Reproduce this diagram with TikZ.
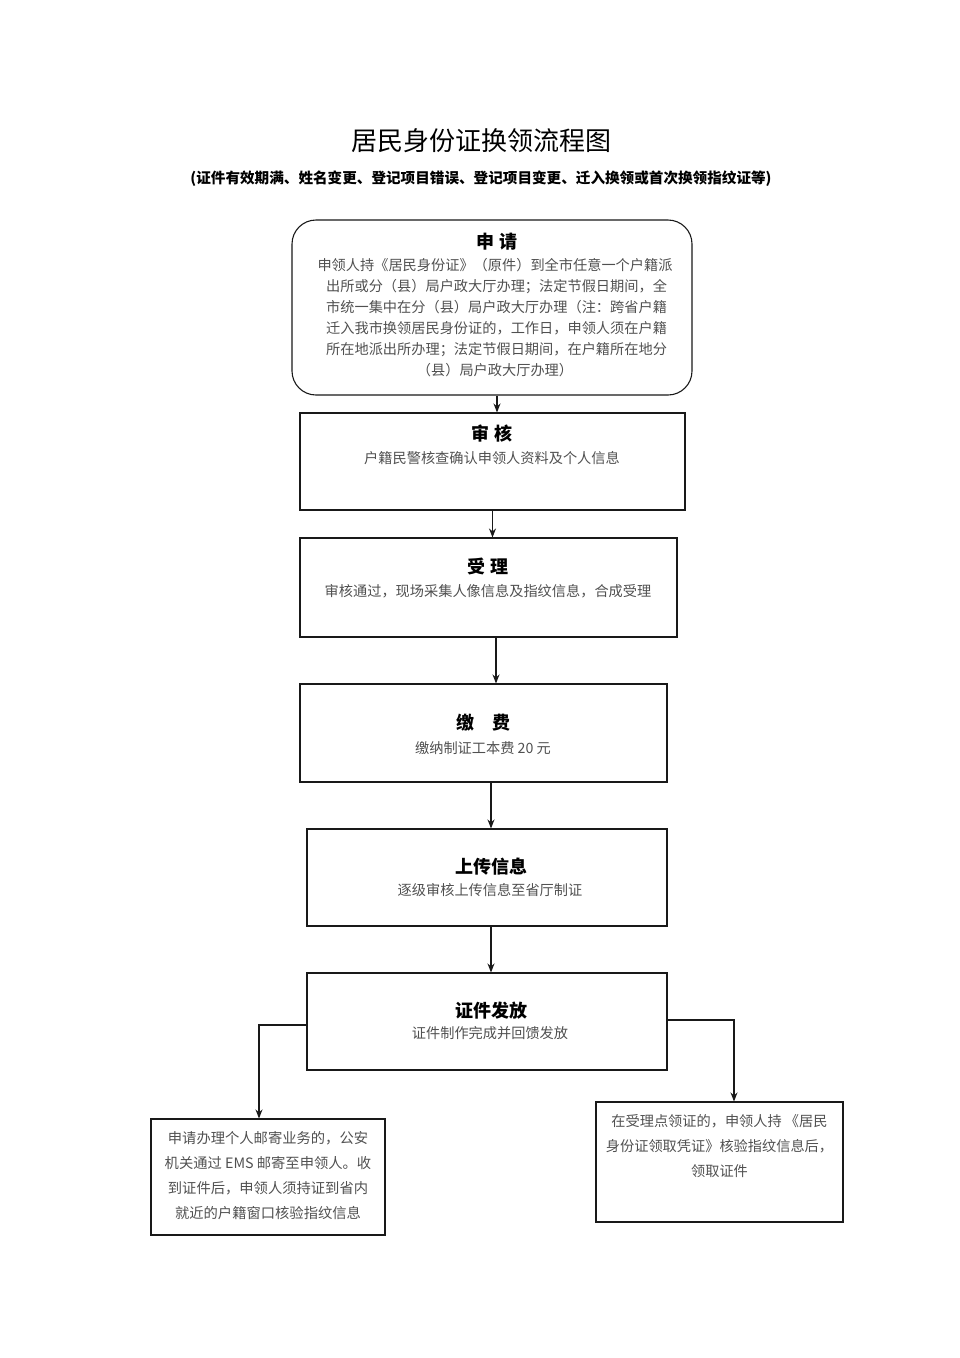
\documentclass[tikz,border=0pt]{standalone}
\usepackage{fontspec}
\setmainfont{Noto Sans CJK SC}
\usetikzlibrary{arrows.meta,positioning}
\definecolor{bodygray}{HTML}{505050}
\tikzset{
  box/.style={draw=black!90,line width=1.1pt,rectangle,inner sep=0pt},
  roundbox/.style={box,rounded corners=24pt},
  ttl/.style={font=\fontsize{18}{20}\selectfont\bfseries,text=black,inner sep=0pt},
  txt/.style={font=\fontsize{14.2}{21}\selectfont,text=bodygray,align=center,inner sep=0pt},
  arr/.style={draw=black!90,line width=1.1pt,-{Stealth[length=9pt,width=7pt]}}
}
\begin{document}
\begin{tikzpicture}[x=1pt,y=-1pt]
\useasboundingbox (0,0) rectangle (960,1358);

% heading
\node[font=\fontsize{26}{28}\selectfont,inner sep=0pt] (title) at (481,141) {居民身份证换领流程图};
\node[font=\fontsize{14.6}{16}\selectfont\bfseries,inner sep=0pt] (subtitle) at (481,179)
  {(证件有效期满、姓名变更、登记项目错误、登记项目变更、迁入换领或首次换领指纹证等)};

% boxes
\node[roundbox,minimum width=400pt,minimum height=175pt] (apply) at (492,307.5) {};
\node[box,minimum width=385pt,minimum height=97pt] (check) at (492.5,461.5) {};
\node[box,minimum width=377pt,minimum height=99pt] (accept) at (488.5,587.5) {};
\node[box,minimum width=367pt,minimum height=98pt] (pay) at (483.5,733) {};
\node[box,minimum width=360pt,minimum height=97pt] (upload) at (487,877.5) {};
\node[box,minimum width=360pt,minimum height=97pt] (issue) at (487,1021.5) {};
\node[box,minimum width=234pt,minimum height=116pt] (mail) at (268,1177) {};
\node[box,minimum width=247pt,minimum height=120pt] (pickup) at (719.5,1162) {};

% texts
\node[ttl] (applyT) at (497,242) {申\ 请};
\node[txt] (applyB) at (495,317.5) {申领人持《居民身份证》（原件）到全市任意一个户籍派\\
  \ 出所或分（县）局户政大厅办理；法定节假日期间，全\\
  \ 市统一集中在分（县）局户政大厅办理（注：跨省户籍\\
  \ 迁入我市换领居民身份证的，工作日，申领人须在户籍\\
  \ 所在地派出所办理；法定节假日期间，在户籍所在地分\\
  （县）局户政大厅办理）};
\node[ttl] (checkT) at (492,434) {审\ 核};
\node[txt] (checkB) at (492,458) {户籍民警核查确认申领人资料及个人信息};
\node[ttl] (acceptT) at (488,566) {受\ 理};
\node[txt] (acceptB) at (488,591) {审核通过，现场采集人像信息及指纹信息，合成受理};
\node[ttl] (payT) at (483,723) {缴\quad 费};
\node[txt] (payB) at (483,748) {缴纳制证工本费 20 元};
\node[ttl] (uploadT) at (491,867) {上传信息};
\node[txt] (uploadB) at (490,890) {逐级审核上传信息至省厅制证};
\node[ttl] (issueT) at (491,1011) {证件发放};
\node[txt] (issueB) at (490,1033) {证件制作完成并回馈发放};
\node[txt,font=\fontsize{14.3}{25}\selectfont] (mailB) at (268,1175.5)
  {申请办理个人邮寄业务的，公安\\机关通过 EMS 邮寄至申领人。收\\到证件后，申领人须持证到省内\\就近的户籍窗口核验指纹信息};
\node[txt,font=\fontsize{14.2}{25}\selectfont] (pickupB) at (719.5,1146)
  {在受理点领证的，申领人持 《居民\\身份证领取凭证》核验指纹信息后，\\领取证件};

% connectors
\draw[arr] ([xshift=5pt]apply.south) -- ([xshift=5pt]apply.south |- check.north);
\draw[arr] (check.south) -- (check.south |- accept.north);
\draw[arr] ([xshift=7.5pt]accept.south) -- ([xshift=7.5pt]accept.south |- pay.north);
\draw[arr] ([xshift=7.5pt]pay.south) -- ([xshift=7.5pt]pay.south |- upload.north);
\draw[arr] ([xshift=4pt]upload.south) -- ([xshift=4pt]upload.south |- issue.north);
\draw[arr] ([yshift=-3.5pt]issue.west) -| ([xshift=-9pt]mail.north);
\draw[arr] ([yshift=1.5pt]issue.east) -| ([xshift=14.5pt]pickup.north);
\end{tikzpicture}
\end{document}
